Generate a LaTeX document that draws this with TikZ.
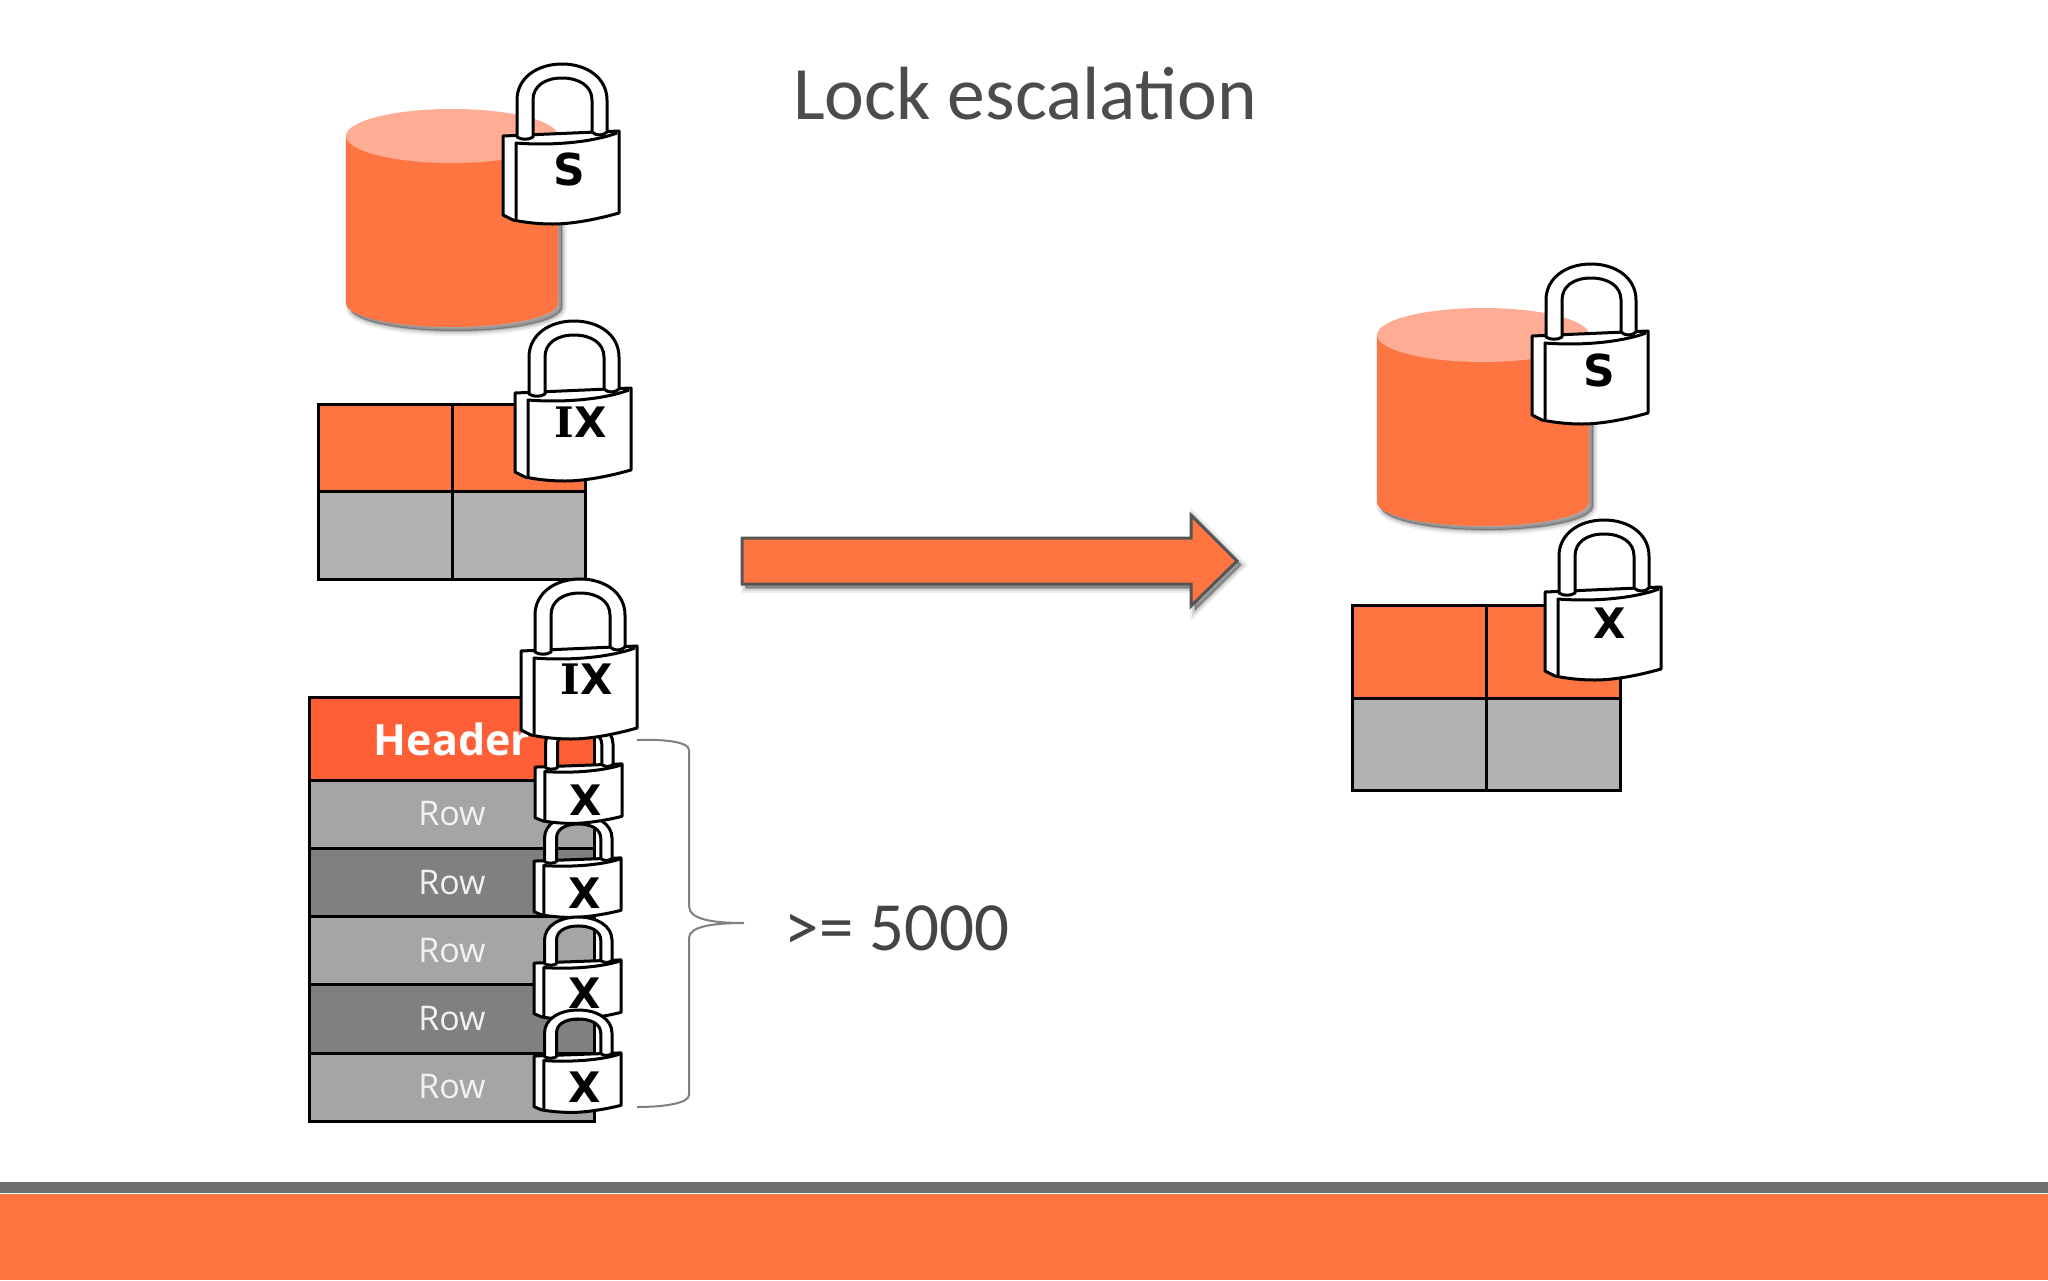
\documentclass[tikz,border=0pt]{standalone}
\usepackage{fontspec}
\setmainfont{Carlito}
\newfontfamily\locksans{DejaVu Sans}
\newfontfamily\lockserif{DejaVu Serif}
\newfontfamily\rowfont{Open Sans}
\definecolor{orangeA}{HTML}{FF7542}
\definecolor{orangeTop}{HTML}{FFAC94}
\definecolor{headerRed}{HTML}{FF5F36}
\definecolor{cellGray}{HTML}{B2B2B2}
\definecolor{rowLight}{HTML}{A5A4A7}
\definecolor{rowDark}{HTML}{807F82}
\definecolor{titleInk}{HTML}{4C4C4E}
\definecolor{countInk}{HTML}{444446}
\definecolor{barGray}{HTML}{707070}
\definecolor{braceGray}{HTML}{808080}
\definecolor{arrowEdge}{HTML}{555555}
\tikzset{
  x=1pt,y=-1pt,
  cellbox/.style={draw=black,line width=3pt},
  softshade/.style={preaction={draw=black,fill=black,opacity=.06,line width=10pt,transform canvas={shift={(4pt,-4pt)}}},
                    preaction={draw=black,fill=black,opacity=.10,line width=6pt,transform canvas={shift={(4pt,-4pt)}}},
                    preaction={draw=black,fill=black,opacity=.18,line width=2pt,transform canvas={shift={(4pt,-4pt)}}}},
  lockline/.style={draw=black,line width=3pt,line join=round},
  locklet/.style={font=\fontsize{42}{42}\selectfont\bfseries\locksans,text=black,inner sep=0pt},
  rowlabel/.style={font=\fontsize{34}{34}\selectfont\rowfont,text=white!90!gray,inner sep=0pt},
}
% padlock: #1 position of top-left of its bounding box, #2 xscale, #3 yscale
\newcommand{\padlock}[3]{%
  \begin{scope}[shift={(#1)},xscale=#2,yscale=#3]
    \path[lockline,fill=white] (0,72) -- (116,67) -- (116,149)
      .. controls (95,155) and (70,160) .. (50,160)
      .. controls (30,160) and (15,157) .. (10,156) -- (0,151) -- cycle;
    \path[lockline] (13,155) -- (13,79) .. controls (50,82) and (90,78) .. (114,69);
    \path[lockline,fill=white] (14,73) -- (14,36) .. controls (14,14) and (34,0) .. (59,0)
      .. controls (84,0) and (104,14) .. (104,36) -- (104,68)
      .. controls (100,72) and (93,72) .. (89,68) -- (89,36)
      .. controls (89,22) and (76,14) .. (59,14)
      .. controls (42,14) and (30,22) .. (30,36) -- (30,73)
      .. controls (26,76) and (18,76) .. (14,73) -- cycle;
  \end{scope}}
\begin{document}
\begin{tikzpicture}
\useasboundingbox (0,0) rectangle (2048,1280);
\fill[white] (0,0) rectangle (2048,1280);
% footer
\fill[barGray] (0,1182) rectangle (2048,1193);
\fill[orangeA] (0,1194) rectangle (2048,1280);
% title
\node[inner sep=0pt,text=titleInk,font=\fontsize{75.5}{76}\selectfont] (title) at (1025,94) {Lock escalation};
% cylinder left
\path[fill=orangeA,softshade] (346,136) -- (346,303) .. controls (346,317) and (395,327) .. (452,327)
  .. controls (509,327) and (558,317) .. (558,303) -- (558,136) -- cycle;
\fill[orangeTop] (452,136) ellipse [x radius=106,y radius=27];
% table left
\fill[orangeA] (318,404) rectangle (585,491);
\fill[cellGray] (318,491) rectangle (585,579);
\draw[cellbox] (318,404) rectangle (585,579) (318,491) -- (585,491) (452,404) -- (452,579);
% row table
\fill[headerRed] (309,697) rectangle (594,780);
\fill[rowLight] (309,780) rectangle (594,848);
\fill[rowDark] (309,848) rectangle (594,916);
\fill[rowLight] (309,916) rectangle (594,984);
\fill[rowDark] (309,984) rectangle (594,1053);
\fill[rowLight] (309,1053) rectangle (594,1121);
\draw[cellbox] (309,697) rectangle (594,1121)
  (309,780) -- (594,780) (309,848) -- (594,848) (309,916) -- (594,916) (309,984) -- (594,984) (309,1053) -- (594,1053);
\node[inner sep=0pt,text=white,font=\fontsize{43}{44}\selectfont\bfseries\rowfont] (hdr) at (452,739) {Header};
\node[rowlabel] (r1) at (452,814) {Row};
\node[rowlabel] (r2) at (452,883) {Row};
\node[rowlabel] (r3) at (452,951) {Row};
\node[rowlabel] (r4) at (452,1019) {Row};
\node[rowlabel] (r5) at (452,1087) {Row};
% brace
\coordinate (braceTop) at (637,740);
\coordinate (braceBot) at (637,1107);
\coordinate (braceTip) at (744,923);
\draw[braceGray,line width=2pt] (braceTop) .. controls (665,739) and (689,742) .. (689,750) -- (689,906)
  .. controls (689,920) and (715,923) .. (braceTip) .. controls (715,923) and (689,926) .. (689,938)
  -- (689,1095) .. controls (689,1103) and (665,1107) .. (braceBot);
\node[inner sep=0pt,text=countInk,font=\fontsize{69}{70}\selectfont] (count) at (897,928) {>= 5000};
% arrow
\path[fill=orangeA,draw=arrowEdge,line width=3pt,line join=miter,softshade]
  (742,538) -- (1191,538) -- (1191,515) -- (1237,561) -- (1191,606) -- (1191,584) -- (742,584) -- cycle;
% cylinder right
\path[fill=orangeA,softshade] (1377,335) -- (1377,502) .. controls (1377,516) and (1426,526) .. (1483,526)
  .. controls (1540,526) and (1589,516) .. (1589,502) -- (1589,335) -- cycle;
\fill[orangeTop] (1483,335) ellipse [x radius=106,y radius=27];
% table right
\fill[orangeA] (1352,605) rectangle (1620,698);
\fill[cellGray] (1352,698) rectangle (1620,790);
\draw[cellbox] (1352,605) rectangle (1620,790) (1352,698) -- (1620,698) (1486,605) -- (1486,790);
% locks
\padlock{503,64}{1}{1}
\node[locklet,font=\fontsize{44}{44}\selectfont\bfseries\locksans] (s1) at (569,169) {S};
\padlock{515,321}{1}{1}
\node[locklet] (ix1) at (581,422) {{\lockserif I}X};
\padlock{534,815}{.75}{.64}
\node[locklet] (x2) at (585,893) {X};
\padlock{535,721}{.75}{.64}
\node[locklet] (x1) at (586,800) {X};
\padlock{534,917}{.75}{.64}
\node[locklet] (x3) at (585,993) {X};
\padlock{534,1010}{.75}{.64}
\node[locklet] (x4) at (585,1087) {X};
\padlock{521,579}{1}{1}
\node[locklet] (ix2) at (587,679) {{\lockserif I}X};
\padlock{1532,264}{1}{1}
\node[locklet,font=\fontsize{44}{44}\selectfont\bfseries\locksans] (s2) at (1599,370) {S};
\padlock{1545,520}{1}{1}
\node[locklet] (x5) at (1610,623) {X};
\end{tikzpicture}
\end{document}
